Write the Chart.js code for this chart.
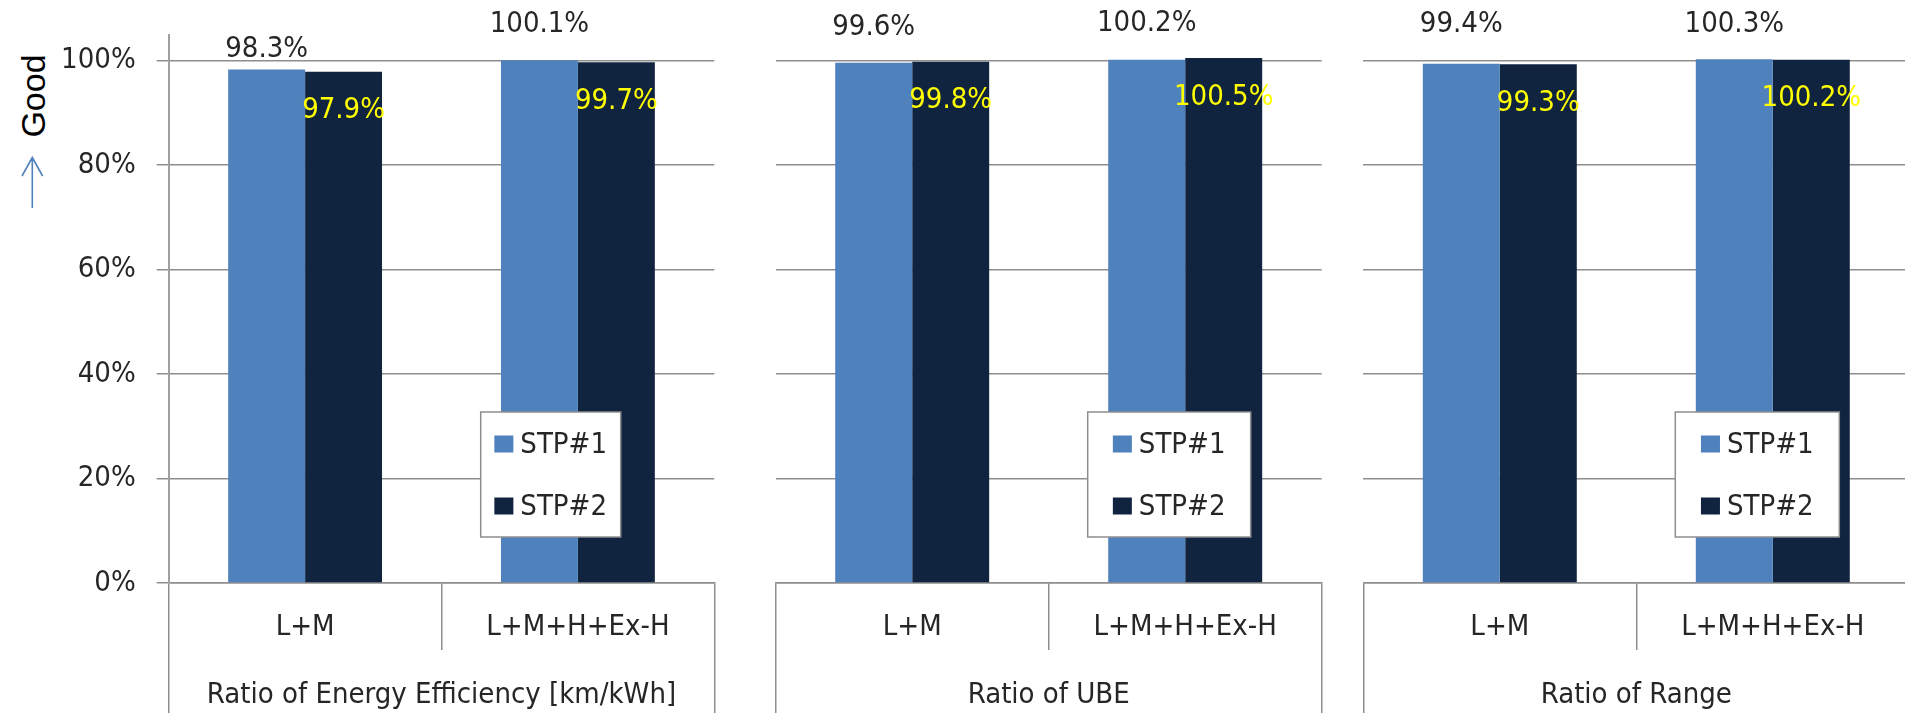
<!DOCTYPE html>
<html>
<head>
<meta charset="utf-8">
<script src="https://cdn.jsdelivr.net/npm/chart.js@4.4.1/dist/chart.umd.min.js"></script>
<style>
html, body { margin: 0; padding: 0; background: #ffffff; overflow: hidden; width: 1905px; height: 713px; }
canvas { position: absolute; top: 0; }
#good { position: absolute; left: 0; top: 0; }
</style>
</head>
<body>
<svg id="good" width="70" height="230" xmlns="http://www.w3.org/2000/svg">
  <text transform="translate(45,96) rotate(-90)" text-anchor="middle" font-family="Liberation Sans, Arial, sans-serif" font-size="34" fill="#000000">Good</text>
  <path d="M32.3 208 L32.3 157.5 M22 176 L32.3 157.5 L42.6 176" fill="none" stroke="#4f81bd" stroke-width="1.6"/>
</svg>
<canvas id="c1" width="740" height="713" style="left:0px"></canvas>
<canvas id="c2" width="590" height="713" style="left:750px"></canvas>
<canvas id="c3" width="600" height="713" style="left:1345px"></canvas>
<script>
// ---- data ----
const categories = ['L+M', 'L+M+H+Ex-H'];
const groupTitles = ['Ratio of Energy Efficiency [km/kWh]', 'Ratio of UBE', 'Ratio of Range'];
const seriesNames = ['STP#1', 'STP#2'];
const stp1Values = [[98.3, 100.1], [99.6, 100.2], [99.4, 100.3]];
const stp2Values = [[97.9, 99.7], [99.8, 100.5], [99.3, 100.2]];
const yTicks = [0, 20, 40, 60, 80, 100];
const yMax = 105;

// ---- style ----
const fontFamily = '"DejaVu Sans Condensed", "DejaVu Sans", sans-serif';
const fontSize = 29;
const textColor = '#262626';
const gridColor = '#8e8e8e';
const colors = ['#4f81bd', '#11243f'];
const labelColor2 = '#ffff00';
const stp1LabelLift = [[20, 36], [35, 36], [39, 35]];
const panels = [
  { canvas: 'c1', axisWidth: 168.7, padRight: 25.7, showY: true, legendWidth: 140 },
  { canvas: 'c2', axisWidth: 25.7, padRight: 18.3, showY: false, legendWidth: 163 },
  { canvas: 'c3', axisWidth: 18.3, padRight: 35.7, showY: false, legendWidth: 164 }
];

Chart.defaults.font.family = fontFamily;
Chart.defaults.font.size = fontSize;
Chart.defaults.color = textColor;

const barLabels = {
  id: 'barLabels',
  afterDatasetsDraw(chart, args, opts) {
    const ctx = chart.ctx;
    ctx.save();
    ctx.font = fontSize + 'px ' + fontFamily;
    ctx.textAlign = 'center';
    ctx.textBaseline = 'middle';
    chart.data.datasets.forEach((ds, di) => {
      const meta = chart.getDatasetMeta(di);
      meta.data.forEach((bar, i) => {
        const txt = ds.data[i].toFixed(1) + '%';
        if (di === 0) {
          ctx.fillStyle = textColor;
          ctx.fillText(txt, bar.x, bar.y - opts.lift[i]);
        } else {
          ctx.fillStyle = labelColor2;
          ctx.fillText(txt, bar.x, bar.y + 39);
        }
      });
    });
    ctx.restore();
  }
};

const boxLegend = {
  id: 'boxLegend',
  afterDraw(chart, args, opts) {
    const ctx = chart.ctx;
    const area = chart.chartArea;
    const left = area.left + 312;
    const top = area.top + 377.4;
    const w = opts.width, h = 125;
    ctx.save();
    ctx.fillStyle = '#ffffff';
    ctx.fillRect(left, top, w, h);
    ctx.strokeStyle = gridColor;
    ctx.lineWidth = 1.5;
    ctx.strokeRect(left, top, w, h);
    ctx.font = fontSize + 'px ' + fontFamily;
    ctx.textBaseline = 'middle';
    ctx.textAlign = 'left';
    const ds = chart.data.datasets;
    let tw = 0;
    ds.forEach(d => { tw = Math.max(tw, ctx.measureText(d.label).width); });
    const cw = 19 + 7 + tw;
    const x0 = left + (w - cw) / 2;
    ds.forEach((d, i) => {
      const cy = top + 32 + i * 62;
      ctx.fillStyle = d.backgroundColor;
      ctx.fillRect(x0, cy - 8.5, 19, 17);
      ctx.fillStyle = textColor;
      ctx.fillText(d.label, x0 + 26, cy + 1);
    });
    ctx.restore();
  }
};

panels.forEach((p, pi) => {
  new Chart(document.getElementById(p.canvas), {
    type: 'bar',
    data: {
      labels: categories,
      datasets: [
        { label: seriesNames[0], data: stp1Values[pi], backgroundColor: colors[0], categoryPercentage: 0.564, barPercentage: 1.0, xAxisID: 'x' },
        { label: seriesNames[1], data: stp2Values[pi], backgroundColor: colors[1], categoryPercentage: 0.564, barPercentage: 1.0, xAxisID: 'x' }
      ]
    },
    options: {
      responsive: false,
      animation: false,
      events: [],
      layout: { padding: { top: 34.6, left: 0, right: p.padRight, bottom: 0 } },
      plugins: {
        legend: { display: false },
        tooltip: { enabled: false },
        barLabels: { lift: stp1LabelLift[pi] },
        boxLegend: { width: p.legendWidth }
      },
      scales: {
        x: {
          type: 'category',
          position: 'bottom',
          offset: true,
          grid: { offset: true, drawOnChartArea: false, drawTicks: true, tickLength: 67, color: gridColor, lineWidth: 1.5 },
          border: { display: true, color: gridColor, width: 1.5 },
          ticks: { padding: -40.4, color: textColor, font: { size: fontSize }, maxRotation: 0, autoSkip: false },
          afterFit(s) { s.height = 67; s.paddingLeft = 0; s.paddingRight = 0; }
        },
        x2: {
          type: 'category',
          position: 'bottom',
          weight: 1,
          offset: true,
          labels: [groupTitles[pi]],
          grid: { offset: true, drawOnChartArea: false, drawTicks: true, tickLength: 80, color: gridColor, lineWidth: 1.5 },
          border: { display: false },
          ticks: { padding: -52.4, color: textColor, font: { size: fontSize }, maxRotation: 0, autoSkip: false },
          afterFit(s) { s.height = 63; s.paddingLeft = 0; s.paddingRight = 0; }
        },
        y: {
          type: 'linear',
          position: 'left',
          min: 0,
          max: yMax,
          afterBuildTicks(s) { s.ticks = yTicks.map(v => ({ value: v })); },
          grid: { drawTicks: p.showY, tickLength: 12, color: gridColor, lineWidth: 1.5 },
          border: { display: p.showY, color: '#a0a0a0', width: 2 },
          ticks: { display: p.showY, padding: 21, color: textColor, font: { size: fontSize }, callback: v => v + '%' },
          afterFit(s) { s.width = p.axisWidth; s.paddingTop = 0; s.paddingBottom = 0; }
        }
      }
    },
    plugins: [barLabels, boxLegend]
  });
});
</script>
</body>
</html>
